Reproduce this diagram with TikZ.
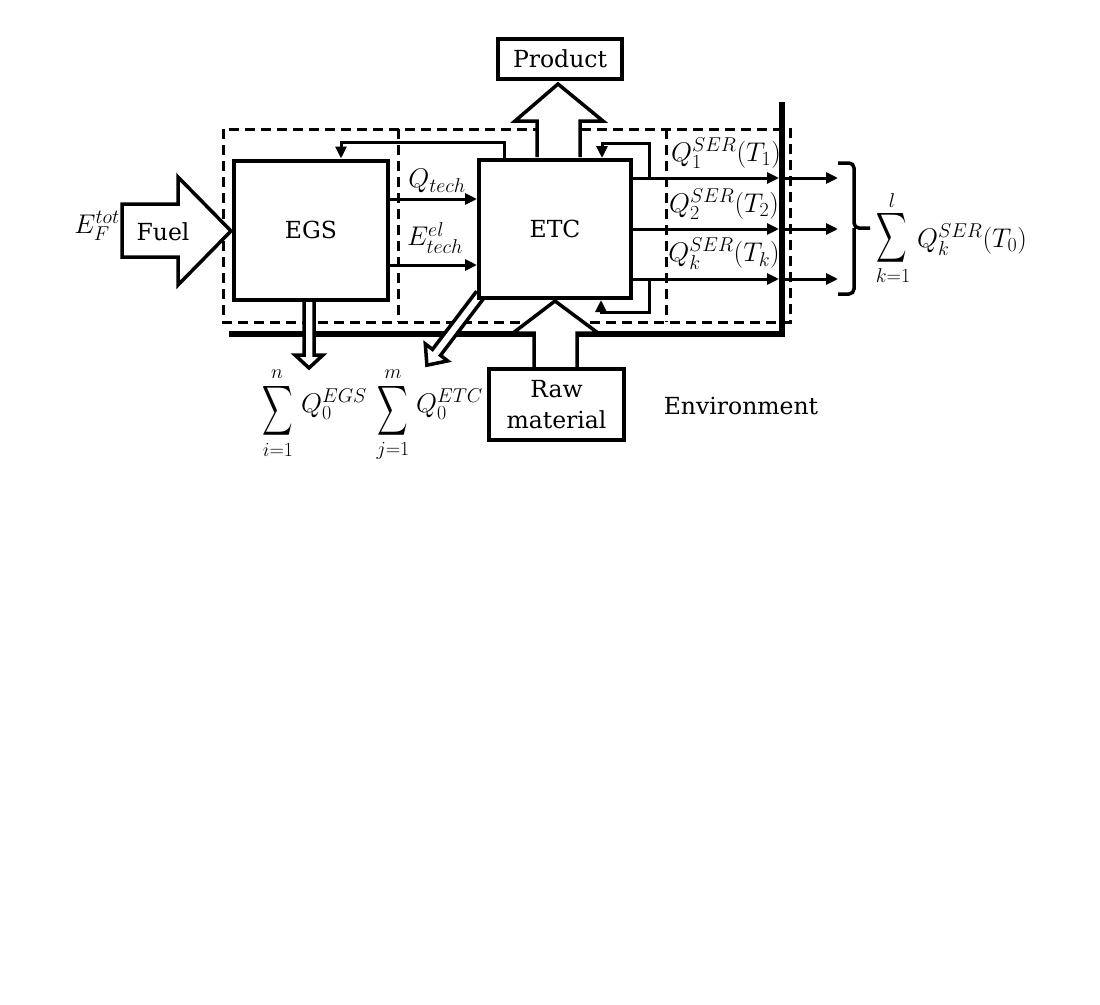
\RequirePackage{fix-cm}
\documentclass[tikz,border=0pt]{standalone}
\usepackage{amsmath}
\usepackage{graphicx}
\usepackage{fontspec}
\setmainfont{DejaVu Serif}
\usetikzlibrary{arrows.meta,calc}
\DeclareMathSizes{27}{27}{20}{15}
\newcommand{\tallsigma}{\scalebox{0.85}[1.4]{$\displaystyle\sum$}}
\begin{document}
\begin{tikzpicture}[x=1pt,y=-1pt,
  box/.style={draw,line width=4pt,fill=white,inner sep=0pt,font=\fontsize{23.5}{31}\selectfont,align=center},
  hollow/.style={draw,line width=3.5pt,fill=white,line join=miter},
  flow/.style={line width=3pt,-{Triangle[length=12pt,width=11pt]}},
  envline/.style={line width=5.5pt},
  sysline/.style={line width=3pt,dash pattern=on 10pt off 6pt},
  lbl/.style={inner sep=0pt,font=\fontsize{23.5}{28}\selectfont},
  mlbl/.style={inner sep=0pt,font=\fontsize{27}{32}\selectfont},
  bracestyle/.style={line width=3.5pt,rounded corners=5pt}]
\useasboundingbox (0,0) rectangle (1100,1004);

% system boundaries (dashed)
\draw[sysline] (223,129) rectangle (790,322);
\draw[sysline] (398,129) -- (398,322);
\draw[sysline] (666,129) -- (666,322);

% environment boundary (thick)
\draw[envline] (229,334) -- (782,334) -- (782,102);

% hollow arrows
\draw[hollow] (122,204) -- (178,204) -- (178,177) -- (231,231) -- (178,285) -- (178,257) -- (122,257) -- cycle;
\draw[hollow] (537,157) -- (537,121) -- (515,121) -- (558,84) -- (603,121) -- (580,121) -- (580,157);
\draw[hollow] (534,368) -- (534,333) -- (513,333) -- (555,301) -- (598,333) -- (577,333) -- (577,368);
\draw[hollow] (304,300) -- (304,355) -- (295,355) -- (309,368) -- (323,355) -- (314,355) -- (314,300);
\draw[hollow] (476.6,291.2) -- (432.5,349.4) -- (425.3,343.9) -- (426.9,365.2) -- (447.7,360.9) -- (440.5,355.4) -- (484.6,297.2);

% boxes
\node[box,minimum width=154pt,minimum height=139pt] (EGS) at (311,230) {EGS};
\node[box,minimum width=152pt,minimum height=138pt] (ETC) at (555,229) {ETC};
\node[box,minimum width=124pt,minimum height=40pt] (P) at (560,58.7) {Product};
\node[box,minimum width=135pt,minimum height=70.7pt] (R) at (556.5,404.3) {Raw\\material};

% flows EGS -> ETC
\draw[flow] ([yshift=31pt]EGS.east) -- ([yshift=31pt]EGS.east -| ETC.west);
\draw[flow] ([yshift=-35pt]EGS.east) -- ([yshift=-35pt]EGS.east -| ETC.west);

% feedback loops
\coordinate (fb1) at (341,142);
\draw[flow] ([xshift=-51pt]ETC.north) |- (fb1) -- (fb1 |- EGS.north);
\coordinate (fb2) at (602,143);
\coordinate (t1) at (649,178);
\draw[flow] (t1) |- (fb2) -- (fb2 |- ETC.north);
\coordinate (fb3) at (601,312);
\coordinate (t3) at (649,279);
\draw[flow] (t3) |- (fb3) -- (fb3 |- ETC.south);

% output flows
\coordinate (B1) at (779,178); \coordinate (C1) at (782,178); \coordinate (O1) at (838,178);
\coordinate (B2) at (779,229); \coordinate (C2) at (782,229); \coordinate (O2) at (838,229);
\coordinate (B3) at (779,279); \coordinate (C3) at (782,279); \coordinate (O3) at (838,279);
\draw[flow] (B1 -| ETC.east) -- (B1);
\draw[flow] (B2 -| ETC.east) -- (B2);
\draw[flow] (B3 -| ETC.east) -- (B3);
\draw[flow] (C1) -- (O1);
\draw[flow] (C2) -- (O2);
\draw[flow] (C3) -- (O3);

% brace
\draw[bracestyle] (838,163) -- (854,163) -- (854,228) -- (870,228);
\draw[bracestyle] (838,294) -- (854,294) -- (854,228);

% labels
\node[mlbl] (eft) at (97,226) {$E_F^{tot}$};
\node[lbl] (fuel) at (163,232) {Fuel};
\node[mlbl] (qt) at (437,181) {$Q_{tech}$};
\node[mlbl] (et) at (435,238) {$E_{tech}^{el}$};
\node[mlbl] (q1) at (726,153) {$Q_1^{SER}(T_1)$};
\node[mlbl] (q2) at (724,204) {$Q_2^{SER}(T_2)$};
\node[mlbl] (qk) at (724,254) {$Q_k^{SER}(T_k)$};

% sum over k
\node[mlbl] (sigK) at (892,238) {\tallsigma};
\node[mlbl] (upK) at (892,201) {$\scriptstyle l$};
\node[mlbl] (loK) at (893,276) {$\scriptstyle k=1$};
\node[mlbl,anchor=west] (termK) at (917,240) {$Q_k^{SER}(T_0)$};

% sum over i
\node[mlbl] (sigI) at (278,411) {\tallsigma};
\node[mlbl] (upI) at (277,374) {$\scriptstyle n$};
\node[mlbl] (loI) at (278,450) {$\scriptstyle i=1$};
\node[mlbl,anchor=west] (termI) at (301,404) {$Q_0^{EGS}$};

% sum over j
\node[mlbl] (sigJ) at (393,411) {\tallsigma};
\node[mlbl] (upJ) at (393,374) {$\scriptstyle m$};
\node[mlbl] (loJ) at (393,451) {$\scriptstyle j=1$};
\node[mlbl,anchor=west] (termJ) at (416,404) {$Q_0^{ETC}$};

\node[lbl] (env) at (741,406) {Environment};
\end{tikzpicture}
\end{document}
